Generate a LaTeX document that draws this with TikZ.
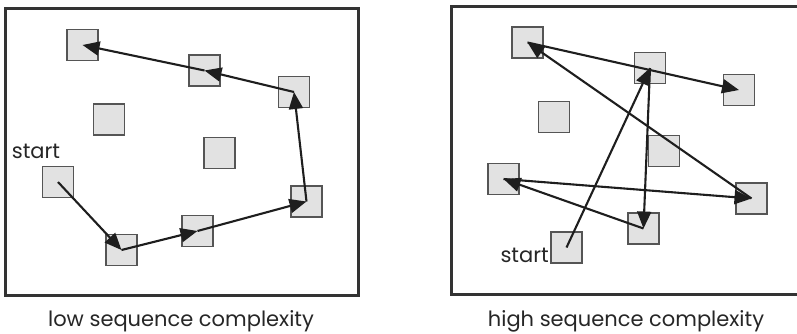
\documentclass[tikz,border=0pt]{standalone}
\usepackage{fontspec}
\setmainfont{Poppins}
\usetikzlibrary{arrows.meta}
\definecolor{sqfill}{HTML}{E2E2E2}
\definecolor{sqdraw}{HTML}{555555}
\definecolor{arr}{HTML}{1E1E1E}
\begin{document}
\begin{tikzpicture}[x=1pt,y=-1pt,
  frame/.style={draw=black!80,line width=3pt},
  sq/.style={draw=sqdraw,fill=sqfill,line width=1.3pt,minimum size=31pt,inner sep=0pt,outer sep=0pt},
  link/.style={draw=arr,line width=2.1pt,-{Triangle[length=17pt,width=14pt]}},
  lbl/.style={inner sep=0pt,font=\fontsize{21}{24}\selectfont,text=black!85}
]
\useasboundingbox (0,0) rectangle (797,333);
% frames
\draw[frame] (5,8) rectangle (358,295);
\draw[frame] (451,6) rectangle (800,294);
% left squares
\node[sq] (A) at (82.5,45) {};
\node[sq] (B) at (204.5,70.5) {};
\node[sq] (C) at (294,92) {};
\node[sq] (D) at (109,119.5) {};
\node[sq] (E) at (219.5,153) {};
\node[sq] (F) at (58,182) {};
\node[sq] (G) at (121.5,250) {};
\node[sq] (H) at (197.5,231) {};
\node[sq] (I) at (306.5,201.5) {};
% left path
\draw[link] (F.center) -- (G.center);
\draw[link] (G.center) -- (H.center);
\draw[link] (H.center) -- (I.center);
\draw[link] (I.center) -- (C.center);
\draw[link] (C.center) -- (B.center);
\draw[link] (B.center) -- (A.center);
% right squares
\node[sq] (P) at (527.5,42.5) {};
\node[sq] (Q) at (650,68) {};
\node[sq] (R) at (739,90) {};
\node[sq] (S) at (554,117) {};
\node[sq] (T) at (664,151) {};
\node[sq] (U) at (503.5,179) {};
\node[sq] (V) at (751.5,198.5) {};
\node[sq] (W) at (643.5,228.5) {};
\node[sq] (X) at (566.5,247.5) {};
% right path
\draw[link] (X.center) -- (Q.center);
\draw[link] (Q.center) -- (W.center);
\draw[link] (W.center) -- (U.center);
\draw[link] (U.center) -- (V.center);
\draw[link] (V.center) -- (P.center);
\draw[link] (P.center) -- (R.center);
% labels
\node[lbl,anchor=base] (s1) at (36,158) {start};
\node[lbl,anchor=base east] (s2) at (549,262) {start};
\node[lbl,anchor=base] (c1) at (181,326) {low sequence complexity};
\node[lbl,anchor=base] (c2) at (626,326) {high sequence complexity};
\end{tikzpicture}
\end{document}
